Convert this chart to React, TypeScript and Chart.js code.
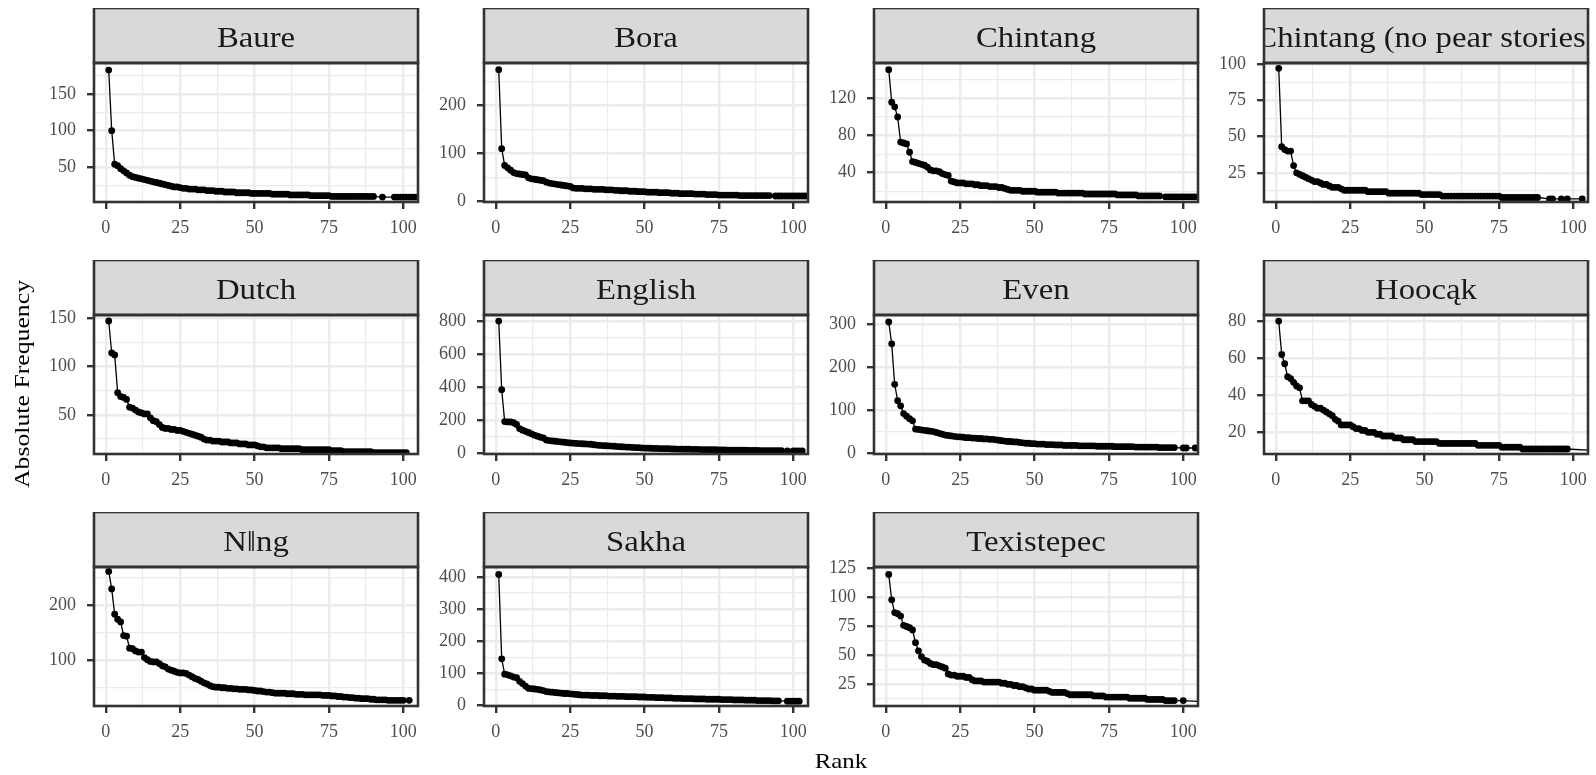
import React, { useEffect, useRef } from "react";
import { Chart, registerables } from "chart.js";

Chart.register(...registerables);

// ---------------- data ----------------
const panelNames = [
  "Baure",
  "Bora",
  "Chintang",
  "Chintang (no pear stories)",
  "Dutch",
  "English",
  "Even",
  "Hoocąk",
  "N‖ng",
  "Sakha",
  "Texistepec",
];

// frequency by rank (index 0 = rank 1); null = no point at that rank
const baure = [
  183, 100, 54, 52, 48, 45, 42, 39, 37, 36,
  35, 34, 33, 32, 31, 30, 29, 28, 27, 26,
  25, 24, 23, 23, 22, 21, 21, 20, 20, 20,
  19, 19, 19, 18, 18, 18, 17, 17, 17, 16,
  16, 16, 16, 15, 15, 15, 15, 15, 14, 14,
  14, 14, 14, 14, 14, 13, 13, 13, 13, 13,
  13, 12, 12, 12, 12, 12, 12, 12, 11, 11,
  11, 11, 11, 11, 11, 10, 10, 10, 10, 10,
  10, 10, 10, 10, 10, 10, 10, 10, 10, 10,
  null, null, 9, null, null, null, 9, 9, 9, 9,
  9, 9, 9, 9,
];

const bora = [
  275, 110, 75, 70, 65, 60, 58, 57, 56, 55,
  49, 47, 46, 45, 44, 43, 40, 38, 37, 36,
  35, 34, 33, 32, 31, 28, 27, 27, 27, 26,
  26, 26, 25, 25, 25, 25, 24, 24, 24, 23,
  23, 22, 22, 22, 21, 21, 21, 20, 20, 20,
  19, 19, 19, 19, 18, 18, 18, 18, 17, 17,
  17, 16, 16, 16, 16, 16, 15, 15, 15, 15,
  14, 14, 14, 14, 13, 13, 13, 13, 13, 13,
  13, 12, 12, 12, 12, 12, 12, 12, 12, 12,
  12, 12, null, 11, 11, 11, 11, 11, 11, 11,
  11, 11, 11, 11,
];

const chintang = [
  151, 116, 111, 100, 73, 72, 71, 62, 52, 51,
  50, 49, 48, 46, 43, 42, 42, 41, 39, 38,
  37, 31, 30, 29, 29, 29, 28, 28, 28, 27,
  27, 26, 26, 26, 25, 25, 25, 24, 24, 23,
  22, 21, 21, 21, 21, 20, 20, 20, 20, 20,
  19, 19, 19, 19, 19, 19, 19, 18, 18, 18,
  18, 18, 18, 18, 18, 18, 17, 17, 17, 17,
  17, 17, 17, 17, 17, 17, 17, 16, 16, 16,
  16, 16, 16, 16, 15, 15, 15, 15, 15, 15,
  15, 15, null, 14, 14, 14, 14, 14, 14, 14,
  14, 14, 14, 14,
];

const chintangNoPear = [
  97, 43, 41, 40, 40, 30, 25, 24, 23, 22,
  21, 20, 19, 19, 18, 17, 17, 16, 15, 15,
  15, 14, 13, 13, 13, 13, 13, 13, 13, 13,
  12, 12, 12, 12, 12, 12, 12, 11, 11, 11,
  11, 11, 11, 11, 11, 11, 11, 11, 10, 10,
  10, 10, 10, 10, 10, 9, 9, 9, 9, 9,
  9, 9, 9, 9, 9, 9, 9, 9, 9, 9,
  9, 9, 9, 9, 9, 8, 8, 8, 8, 8,
  8, 8, 8, 8, 8, 8, 8, 8, null, null,
  null, 7, 7, null, null, 7, null, 7, null, null,
  null, null, 7,
];

const dutch = [
  147, 114, 112, 73, 69, 68, 66, 58, 57, 55,
  53, 52, 51, 51, 47, 44, 43, 40, 37, 36,
  36, 35, 35, 34, 34, 33, 32, 31, 30, 29,
  28, 27, 25, 24, 24, 23, 23, 23, 22, 22,
  22, 21, 21, 21, 20, 20, 20, 19, 19, 19,
  18, 17, 17, 16, 16, 16, 16, 16, 15, 15,
  15, 15, 15, 15, 15, 14, 14, 14, 14, 14,
  14, 14, 14, 14, 14, 13, 13, 13, 13, 12,
  12, 12, 12, 12, 12, 12, 12, 12, 12, 11,
  11, 11, 11, 11, 11, 11, 11, 11, 11, 11,
  11,
];

const english = [
  800, 385, 192, 190, 190, 185, 175, 150, 140, 133,
  126, 118, 110, 104, 98, 93, 80, 77, 75, 73,
  71, 69, 67, 65, 63, 62, 60, 59, 58, 57,
  56, 55, 52, 50, 48, 47, 46, 45, 44, 43,
  41, 40, 39, 38, 37, 36, 35, 34, 33, 32,
  31, 31, 30, 30, 29, 29, 28, 28, 27, 27,
  26, 26, 25, 25, 25, 24, 24, 24, 23, 23,
  23, 22, 22, 22, 21, 21, 21, 20, 20, 20,
  19, 19, 19, 19, 18, 18, 18, 18, 17, 17,
  17, 17, 17, 16, 16, 16, null, 15, null, 15,
  15, 15, 15,
];

const even = [
  305, 254, 160, 122, 110, 92, 86, 80, 75, 56,
  55, 54, 53, 52, 51, 50, 48, 46, 44, 42,
  41, 40, 39, 38, 38, 37, 36, 36, 35, 35,
  34, 34, 33, 33, 32, 32, 31, 30, 29, 28,
  27, 27, 26, 26, 25, 24, 23, 23, 22, 22,
  21, 21, 21, 20, 20, 20, 19, 19, 19, 18,
  18, 18, 18, 18, 17, 17, 17, 17, 17, 17,
  16, 16, 16, 16, 16, 16, 15, 15, 15, 15,
  15, 15, 15, 14, 14, 14, 14, 14, 14, 14,
  14, 13, 13, 13, 13, 13, 13, null, null, 12,
  12, null, null, 12, null, 11,
];

const hoocak = [
  80, 62, 57, 50, 49, 47, 45, 44, 37, 37,
  37, 35, 34, 33, 33, 32, 31, 30, 29, 27,
  26, 24, 24, 24, 24, 23, 22, 22, 21, 21,
  20, 20, 20, 19, 19, 18, 18, 18, 18, 17,
  17, 17, 16, 16, 16, 16, 15, 15, 15, 15,
  15, 15, 15, 15, 14, 14, 14, 14, 14, 14,
  14, 14, 14, 14, 14, 14, 14, 13, 13, 13,
  13, 13, 13, 13, 13, 12, 12, 12, 12, 12,
  12, 12, 11, 11, 11, 11, 11, 11, 11, 11,
  11, 11, 11, 11, 11, 11, 11, 11, null, null,
  null, null, null, null, null, null, null, null, null, 10,
];

const nng = [
  262, 230, 184, 175, 170, 145, 144, 122, 121, 117,
  115, 115, 105, 101, 98, 97, 97, 94, 90, 88,
  84, 82, 80, 78, 77, 77, 76, 73, 70, 67,
  65, 62, 59, 57, 54, 52, 51, 51, 50, 50,
  49, 49, 48, 48, 47, 47, 47, 46, 46, 45,
  44, 44, 43, 42, 42, 41, 40, 40, 40, 40,
  39, 39, 39, 38, 38, 38, 37, 37, 37, 37,
  37, 37, 36, 36, 36, 35, 35, 34, 34, 33,
  33, 32, 32, 31, 31, 30, 30, 30, 29, 29,
  28, 28, 28, 28, 27, 27, 27, 27, 27, 27,
  null, 27,
];

const sakha = [
  408, 145, 97, 95, 92, 88, 86, 75, 68, 60,
  53, 52, 51, 50, 48, 46, 43, 42, 41, 40,
  39, 38, 37, 37, 36, 35, 34, 33, 32, 32,
  32, 31, 31, 31, 30, 30, 30, 29, 29, 29,
  28, 28, 28, 27, 27, 27, 27, 26, 26, 26,
  25, 25, 25, 24, 24, 24, 23, 23, 23, 22,
  22, 22, 21, 21, 21, 21, 20, 20, 20, 20,
  19, 19, 19, 19, 19, 18, 18, 18, 18, 17,
  17, 17, 17, 16, 16, 16, 16, 15, 15, 15,
  15, 15, 14, 14, 14, null, null, 13, 13, 13,
  13, 13,
];

const texistepec = [
  120, 98, 87, 86, 84, 76, 75, 74, 72, 61,
  54, 49, 46, 45, 43, 42, 42, 41, 40, 39,
  34, 33, 33, 32, 32, 32, 31, 31, 29, 28,
  28, 28, 27, 27, 27, 27, 27, 27, 26, 26,
  25, 25, 24, 24, 23, 23, 22, 21, 21, 20,
  20, 20, 20, 20, 19, 18, 18, 18, 18, 18,
  17, 16, 16, 16, 16, 16, 16, 16, 16, 15,
  15, 15, 15, 14, 14, 14, 14, 14, 14, 14,
  14, 13, 13, 13, 13, 13, 13, 12, 12, 12,
  12, 12, 12, 11, 11, 11, 11, null, null, 11,
  null, null, null, null, null, null, null, 10,
];

const panelSeries = [baure, bora, chintang, chintangNoPear, dutch, english, even, hoocak, nng, sakha, texistepec];

// y-axis ranges and major tick steps
const yMins = [2.3, -1.5, 8.4, 4.9, 9.6, -4, -2, 8.3, 16.7, -2, 6.3];
const yMaxs = [192.7, 289, 158.2, 100.7, 153.2, 837, 321, 83.3, 270, 431, 126.4];
const yMajorSteps = [50, 100, 40, 25, 50, 200, 100, 20, 100, 100, 25];

const xMin = -3.95;
const xMax = 104.95;
const xMajorStep = 25;

// ---------------- layout ----------------
const COLS = 4;
const colLefts = [94, 484, 874, 1264];
const rowTops = [8, 260, 512];
const PLOT_W = 324;
const PLOT_H = 139;
const STRIP_H = 55;
const Y_AXIS_W = 80;
const X_AXIS_H = 44;
const RIGHT_PAD = 20;

const FONT = "'Liberation Serif', 'Times New Roman', serif";
const TEXT_STRETCH = 1.13;

function makeTicks(min: number, max: number, step: number) {
  const out: { value: number }[] = [];
  const start = Math.ceil(min / step - 1e-9) * step;
  for (let v = start; v <= max + 1e-9; v += step) {
    out.push({ value: Math.round(v * 1000) / 1000 });
  }
  return out;
}

function isMajor(v: number, step: number) {
  const r = Math.abs(v / step - Math.round(v / step));
  return r < 1e-6;
}

const facetPlugin = {
  id: "facetStrip",
  afterDraw(chart: any, _args: any, opts: any) {
    const { ctx, chartArea: a } = chart;
    const w = a.right - a.left;
    const sTop = a.top - STRIP_H;
    ctx.save();
    ctx.fillStyle = "#D9D9D9";
    ctx.fillRect(a.left, sTop, w, STRIP_H);

    ctx.save();
    ctx.beginPath();
    ctx.rect(a.left + 1, sTop + 1, w - 2, STRIP_H - 2);
    ctx.clip();
    ctx.font = `29px ${FONT}`;
    ctx.fillStyle = "#1A1A1A";
    ctx.textAlign = "center";
    ctx.textBaseline = "alphabetic";
    ctx.translate(a.left + w / 2, sTop + 39);
    ctx.scale(TEXT_STRETCH, 1);
    ctx.fillText(opts.title || "", 0, 0);
    ctx.restore();

    ctx.strokeStyle = "#333333";
    ctx.lineWidth = 2.6;
    ctx.strokeRect(a.left, sTop, w, STRIP_H);
    ctx.strokeRect(a.left, a.top, w, a.bottom - a.top);
    ctx.restore();
  },
};

function Panel({ index }: { index: number }) {
  const ref = useRef<HTMLCanvasElement | null>(null);
  const col = index % COLS;
  const row = Math.floor(index / COLS);
  const left = colLefts[col] - Y_AXIS_W;
  const top = rowTops[row];
  const width = Y_AXIS_W + PLOT_W + RIGHT_PAD;
  const height = STRIP_H + PLOT_H + X_AXIS_H;

  useEffect(() => {
    if (!ref.current) return;
    const series = panelSeries[index];
    const pts = series
      .map((v, i) => (v == null ? null : { x: i + 1, y: v }))
      .filter((p) => p !== null);
    const yStep = yMajorSteps[index];
    const yMin = yMins[index];
    const yMax = yMaxs[index];

    const gridFor = (step: number) => ({
      color: "#EBEBEB",
      lineWidth: (c: any) => (c.tick && isMajor(c.tick.value, step) ? 2.4 : 1.2),
      tickColor: (c: any) =>
        c.tick && isMajor(c.tick.value, step) ? "#333333" : "rgba(0,0,0,0)",
      tickWidth: 2.4,
      tickLength: 7,
      drawTicks: true,
    });

    const chart = new Chart(ref.current, {
      type: "line",
      data: {
        datasets: [
          {
            data: pts as any,
            borderColor: "#000000",
            borderWidth: 1.3,
            pointRadius: 3.4,
            pointHoverRadius: 3.4,
            pointBackgroundColor: "#000000",
            pointBorderWidth: 0,
            tension: 0,
            fill: false,
            clip: 0,
          } as any,
        ],
      },
      options: {
        animation: false,
        responsive: true,
        maintainAspectRatio: false,
        events: [],
        layout: { padding: { top: STRIP_H, right: RIGHT_PAD, left: 0, bottom: 0 } },
        plugins: {
          legend: { display: false },
          tooltip: { enabled: false },
          facetStrip: { title: panelNames[index] },
        } as any,
        scales: {
          x: {
            type: "linear",
            min: xMin,
            max: xMax,
            afterBuildTicks: (s: any) => {
              s.ticks = makeTicks(xMin, xMax, xMajorStep / 2);
            },
            afterFit: (s: any) => {
              s.height = X_AXIS_H;
            },
            border: { display: false },
            grid: gridFor(xMajorStep) as any,
            ticks: {
              autoSkip: false,
              maxRotation: 0,
              padding: 8,
              color: "#4D4D4D",
              font: { family: FONT, size: 18 },
              callback: (v: any) => (isMajor(Number(v), xMajorStep) ? String(v) : ""),
            },
          },
          y: {
            type: "linear",
            min: yMin,
            max: yMax,
            afterBuildTicks: (s: any) => {
              s.ticks = makeTicks(yMin, yMax, yStep / 2);
            },
            afterFit: (s: any) => {
              s.width = Y_AXIS_W;
            },
            border: { display: false },
            grid: gridFor(yStep) as any,
            ticks: {
              autoSkip: false,
              padding: 11,
              color: "#4D4D4D",
              font: { family: FONT, size: 18 },
              callback: (v: any) => (isMajor(Number(v), yStep) ? String(v) : ""),
            },
          },
        },
      },
      plugins: [facetPlugin as any],
    });
    return () => chart.destroy();
  }, [index]);

  return (
    <div style={{ position: "absolute", left, top, width, height }}>
      <canvas ref={ref} />
    </div>
  );
}

export default function App() {
  return (
    <div
      style={{
        position: "fixed",
        left: 0,
        top: 0,
        width: 1596,
        height: 775,
        background: "#FFFFFF",
        overflow: "hidden",
      }}
    >
      {panelNames.map((_, i) => (
        <Panel key={i} index={i} />
      ))}
      <div
        style={{
          position: "absolute",
          left: 841,
          top: 750,
          transform: `translate(-50%, 0) scaleX(${TEXT_STRETCH})`,
          fontFamily: FONT,
          fontSize: 22,
          lineHeight: 1,
          color: "#000000",
          whiteSpace: "nowrap",
        }}
      >
        Rank
      </div>
      <div
        style={{
          position: "absolute",
          left: 22,
          top: 384,
          transform: `translate(-50%, -50%) rotate(-90deg) scaleX(1.17)`,
          fontFamily: FONT,
          fontSize: 22,
          lineHeight: 1,
          color: "#000000",
          whiteSpace: "nowrap",
        }}
      >
        Absolute Frequency
      </div>
    </div>
  );
}
